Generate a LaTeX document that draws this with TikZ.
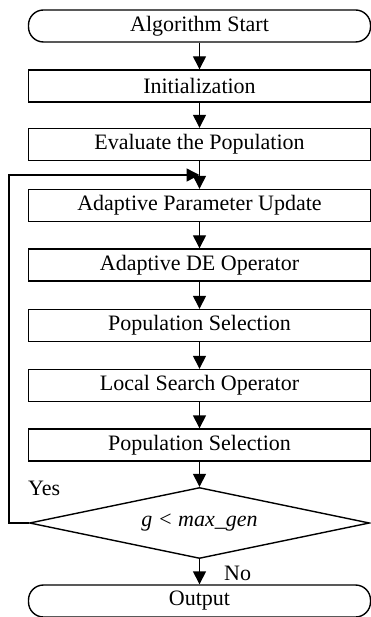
\documentclass[tikz,border=0pt]{standalone}
\usepackage{fontspec}
\setmainfont{Liberation Serif}
\usetikzlibrary{shapes.geometric,arrows.meta}
\begin{document}
\begin{tikzpicture}[x=1pt,y=-1pt,
  every node/.style={font=\fontsize{22}{26}\selectfont},
  procbox/.style={draw,line width=1.4pt,minimum width=342pt,minimum height=32pt,inner sep=0pt},
  termbox/.style={procbox,rounded corners=15pt},
  decbox/.style={draw,line width=1.4pt,diamond,shape aspect=4.8,minimum width=340pt,minimum height=71pt,inner sep=0pt},
  arr/.style={line width=1.4pt,-{Triangle[length=13pt,width=13pt]}},
  lbl/.style={inner sep=0pt}]
\useasboundingbox (0,0) rectangle (370,617);
\node[termbox] (start) at (199.5,26) {Algorithm Start};
\node[procbox] (init) at (199.5,86) {Initialization};
\node[procbox] (eval) at (199.5,144.5) {Evaluate the Population};
\node[procbox] (apu) at (199.5,205.5) {Adaptive Parameter Update};
\node[procbox] (de) at (199.5,265) {Adaptive DE Operator};
\node[procbox] (ps1) at (199.5,325.5) {Population Selection};
\node[procbox] (ls) at (199.5,385.5) {Local Search Operator};
\node[procbox] (ps2) at (199.5,445) {Population Selection};
\node[decbox] (dec) at (199.5,523) {\itshape g < max\_gen};
\node[termbox] (out) at (199.5,601) {Output};
\draw[arr] (start) -- (init);
\draw[arr] (init) -- (eval);
\draw[arr] (eval) -- (apu);
\draw[arr] (apu) -- (de);
\draw[arr] (de) -- (ps1);
\draw[arr] (ps1) -- (ls);
\draw[arr] (ls) -- (ps2);
\draw[arr] (ps2) -- (dec);
\draw[arr] (dec) -- (out);
\coordinate (loopin) at (199.5,175);
\coordinate (lx) at (9,0);
\draw[arr] (dec.west) -- (dec.west -| lx) |- (loopin);
\node[lbl,anchor=west] (yes) at (28,488) {Yes};
\node[lbl,anchor=west] (no) at (224,573) {No};
\end{tikzpicture}
\end{document}
